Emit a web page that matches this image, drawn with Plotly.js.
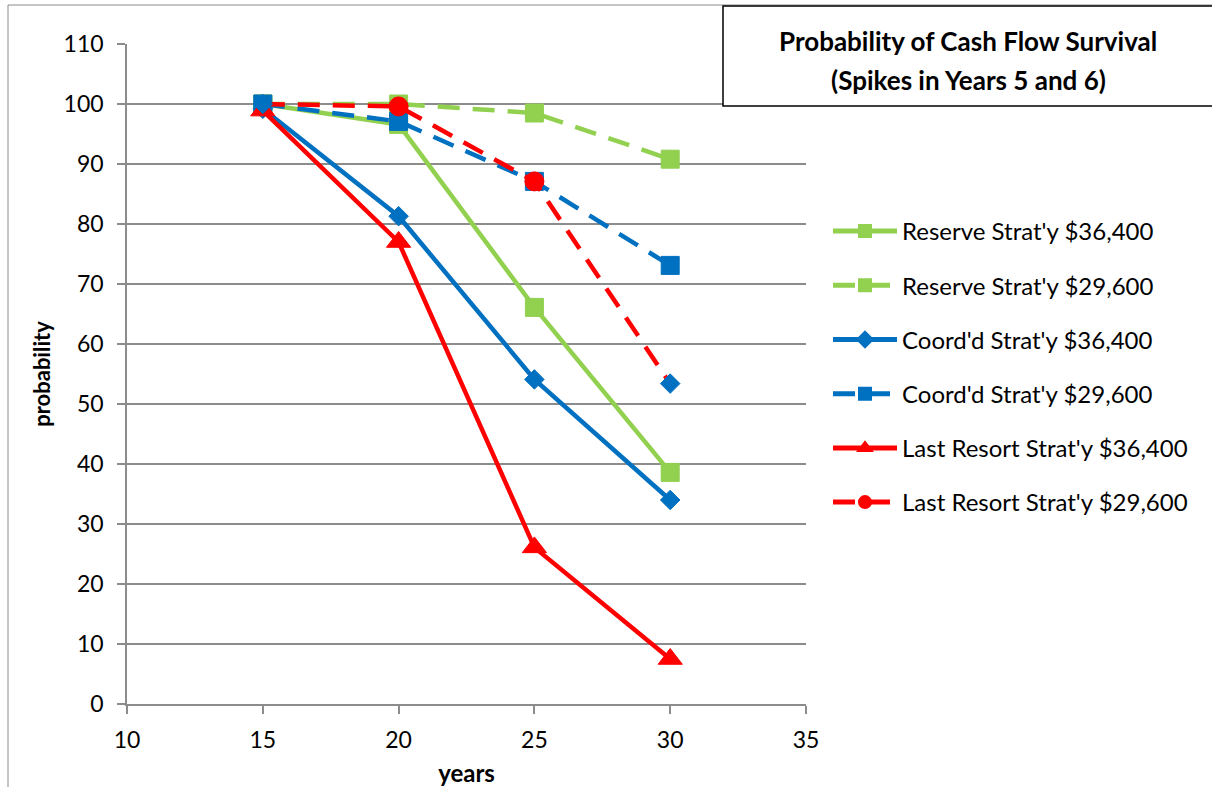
<!DOCTYPE html>
<html>
<head>
<meta charset="utf-8">
<script src="https://cdn.plot.ly/plotly-3.0.1.min.js"></script>
<style>
  html, body { margin: 0; padding: 0; background: #ffffff; }
  #chart { width: 1212px; height: 787px; }
</style>
</head>
<body>
<div id="chart"></div>
<script>
// Years of retirement at which survival probability was evaluated
const years = [15, 20, 25, 30];

// Survival probability (%) for each strategy and spending level
const reserve36400 = [100, 96.6, 66.1, 38.6];
const reserve29600 = [100, 100, 98.5, 90.8];
const coord36400 = [99.2, 81.3, 54.1, 34.0];
const coord29600 = [100, 97.1, 87.1, 73.1];
const lastResort36400 = [98.9, 77.0, 26.1, 7.5];
const lastResort29600 = [100, 99.6, 87.1, 53.4];

const seriesNames = [
  "Reserve Strat'y $36,400",
  "Reserve Strat'y $29,600",
  "Coord'd Strat'y $36,400",
  "Coord'd Strat'y $29,600",
  "Last Resort Strat'y $36,400",
  "Last Resort Strat'y $29,600"
];

const GREEN = '#92D050';
const BLUE = '#0070C0';
const RED = '#FF0000';
const DASH = '22px,13px';

// Plot-area geometry in pixels, used to place the framing shapes
const L = 127, R = 806, T = 44, B = 704;
const px = x => (x - L) / (R - L);
const py = y => (B - y) / (B - T);

function series(name, y, color, dash, symbol, size, group) {
  return {
    type: 'scatter', mode: 'lines+markers',
    x: years, y: y, name: name, legendgroup: group,
    line: { color: color, width: 4.5, dash: dash },
    marker: { color: color, symbol: symbol, size: size, opacity: 1,
              line: { width: 1, color: color } },
    hoverinfo: 'x+y+name'
  };
}

// Last Resort $29,600: round markers on the middle points only
const lastDashed = series(seriesNames[5], lastResort29600, RED, DASH, 'circle', 19, 'g6');
lastDashed.marker.size = [0, 19, 19, 0];

// its end points carry blue diamond markers
const lastDashedEnds = {
  type: 'scatter', mode: 'markers', showlegend: false, legendgroup: 'g6',
  name: seriesNames[5],
  x: [years[0], years[3]],
  y: [lastResort29600[0], lastResort29600[3]],
  marker: { color: BLUE, symbol: 'diamond', size: 15, line: { width: 1, color: BLUE } },
  hoverinfo: 'x+y+name'
};

const traces = [
  series(seriesNames[0], reserve36400, GREEN, 'solid', 'square', 18, 'g1'),
  series(seriesNames[1], reserve29600, GREEN, DASH, 'square', 18, 'g2'),
  series(seriesNames[2], coord36400, BLUE, 'solid', 'diamond', 15, 'g3'),
  series(seriesNames[3], coord29600, BLUE, DASH, 'square', 18, 'g4'),
  series(seriesNames[4], lastResort36400, RED, 'solid', 'triangle-up', 21, 'g5'),
  lastDashed,
  lastDashedEnds
];

const FONT = 'Lato, "Open Sans", "Liberation Sans", sans-serif';

const layout = {
  width: 1212, height: 787,
  margin: { l: L, r: 1212 - R, t: T, b: 787 - B, pad: 0 },
  paper_bgcolor: '#ffffff', plot_bgcolor: '#ffffff',
  font: { family: FONT, size: 20, color: '#000000' },
  showlegend: true,
  legend: {
    x: px(828), y: py(209), xanchor: 'left', yanchor: 'top',
    traceorder: 'grouped', tracegroupgap: 20,
    itemsizing: 'constant', itemwidth: 64,
    font: { family: FONT, size: 24, color: '#000000' },
    bgcolor: 'rgba(0,0,0,0)'
  },
  xaxis: {
    range: [10, 35], dtick: 5, tick0: 10,
    showgrid: false, zeroline: false,
    showline: true, linecolor: '#8c8c8c', linewidth: 1.5,
    ticks: 'outside', ticklen: 8, tickcolor: '#8c8c8c', tickwidth: 1.5,
    ticklabelstandoff: 7,
    tickfont: { family: FONT, size: 23, color: '#000000' },
    title: { text: '<b>years</b>', standoff: 13, font: { family: FONT, size: 24, color: '#000000' } },
    fixedrange: true
  },
  yaxis: {
    range: [0, 110], dtick: 10, tick0: 0,
    showgrid: true, gridcolor: '#8c8c8c', gridwidth: 1.5,
    zeroline: false,
    showline: true, linecolor: '#8c8c8c', linewidth: 1.5,
    ticks: 'outside', ticklen: 8, tickcolor: '#8c8c8c', tickwidth: 1.5,
    ticklabelstandoff: 9,
    tickfont: { family: FONT, size: 23, color: '#000000' },
    title: { text: '<b>probability</b>', standoff: 7, font: { family: FONT, size: 22, color: '#000000' } },
    fixedrange: true
  },
  shapes: [
    // outer chart frame
    { type: 'rect', xref: 'paper', yref: 'paper',
      x0: px(8), x1: px(1230), y0: py(5), y1: py(800),
      line: { color: '#8c8c8c', width: 1 }, fillcolor: 'rgba(0,0,0,0)', layer: 'below' },
    // title box
    { type: 'rect', xref: 'paper', yref: 'paper',
      x0: px(723), x1: px(1230), y0: py(6), y1: py(106),
      line: { color: '#000000', width: 1.5 }, fillcolor: '#ffffff', layer: 'above' }
  ],
  annotations: [
    { xref: 'paper', yref: 'paper', x: px(968), y: py(41),
      xanchor: 'center', yanchor: 'middle', showarrow: false,
      text: '<b>Probability of Cash Flow Survival</b>',
      font: { family: FONT, size: 26, color: '#000000' } },
    { xref: 'paper', yref: 'paper', x: px(968), y: py(80),
      xanchor: 'center', yanchor: 'middle', showarrow: false,
      text: '<b>(Spikes in Years 5 and 6)</b>',
      font: { family: FONT, size: 26, color: '#000000' } }
  ]
};

Plotly.newPlot('chart', traces, layout, { displayModeBar: false });
</script>
</body>
</html>
